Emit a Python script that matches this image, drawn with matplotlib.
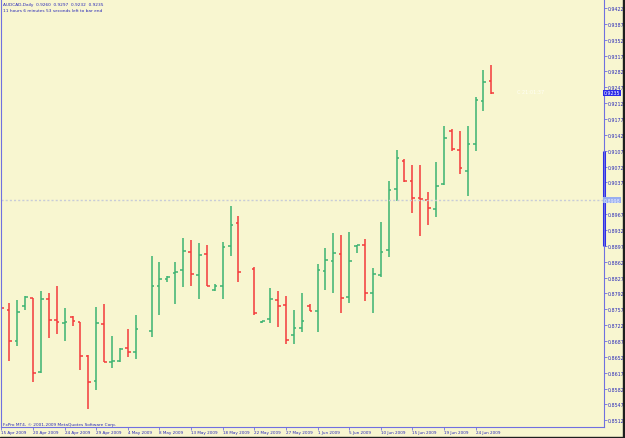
import matplotlib
matplotlib.use('Agg')
import matplotlib.pyplot as plt
import numpy as np

nan = np.nan
dates = ['15 Apr 2009', '16 Apr 2009', '17 Apr 2009', '19 Apr 2009', '20 Apr 2009', '21 Apr 2009',
         '22 Apr 2009', '23 Apr 2009', '24 Apr 2009', '26 Apr 2009', '27 Apr 2009', '28 Apr 2009',
         '29 Apr 2009', '30 Apr 2009', '1 May 2009', '3 May 2009', '4 May 2009', '5 May 2009',
         '6 May 2009', '7 May 2009', '8 May 2009', '10 May 2009', '11 May 2009', '12 May 2009',
         '13 May 2009', '14 May 2009', '15 May 2009', '17 May 2009', '18 May 2009', '19 May 2009',
         '20 May 2009', '21 May 2009', '22 May 2009', '24 May 2009', '25 May 2009', '26 May 2009',
         '27 May 2009', '28 May 2009', '29 May 2009', '31 May 2009', '1 Jun 2009', '2 Jun 2009',
         '3 Jun 2009', '4 Jun 2009', '5 Jun 2009', '7 Jun 2009', '8 Jun 2009', '9 Jun 2009',
         '10 Jun 2009', '11 Jun 2009', '12 Jun 2009', '14 Jun 2009', '15 Jun 2009', '16 Jun 2009',
         '17 Jun 2009', '18 Jun 2009', '19 Jun 2009', '21 Jun 2009', '22 Jun 2009', '23 Jun 2009',
         '24 Jun 2009', '25 Jun 2009', '26 Jun 2009']

opens = [0.8775, 0.8756, 0.8688, 0.8764, 0.8782, 0.8618, 0.8779, 0.8734, 0.8727, 0.8741,
         0.8728, 0.8655, 0.8598, 0.8725, 0.8641, 0.8642, 0.8672, 0.8662, nan, 0.8710,
         0.8808, 0.8824, 0.8837, 0.8843, 0.8883, 0.8833, 0.8878, 0.8800, 0.8808, 0.8897,
         0.8947, nan, 0.8845, 0.8728, 0.8736, 0.8778, 0.8766, 0.8701, 0.8716, 0.8764,
         0.8753, 0.8841, 0.8863, 0.8878, 0.8785, 0.8897, 0.8898, 0.8792, 0.8833, 0.8889,
         0.9023, 0.9084, 0.9041, 0.9003, 0.8998, 0.8978, 0.9033, 0.9151, 0.9109, 0.9063,
         0.9121, 0.9217, 0.9260]
highs = [0.8780, 0.8771, 0.8778, 0.8786, 0.8783, 0.8797, 0.8792, 0.8809, 0.8760, 0.8742,
         0.8729, 0.8656, 0.8761, 0.8769, 0.8697, 0.8672, 0.8714, 0.8744, nan, 0.8874,
         0.8861, 0.8831, 0.8861, 0.8914, 0.8910, 0.8903, 0.8900, 0.8812, 0.8906, 0.8984,
         0.8962, nan, 0.8851, 0.8731, 0.8805, 0.8797, 0.8786, 0.8755, 0.8794, 0.8768,
         0.8856, 0.8893, 0.8925, 0.8921, 0.8927, 0.8900, 0.8912, 0.8848, 0.8950, 0.9041,
         0.9109, 0.9088, 0.9076, 0.9076, 0.9017, 0.9082, 0.9162, 0.9155, 0.9150, 0.9162,
         0.9225, 0.9285, 0.9297]
lows = [0.8676, 0.8644, 0.8677, 0.8756, 0.8597, 0.8616, 0.8693, 0.8702, 0.8687, 0.8721,
        0.8622, 0.8538, 0.8578, 0.8640, 0.8628, 0.8641, 0.8652, 0.8647, nan, 0.8695,
        0.8745, 0.8817, 0.8769, 0.8807, 0.8808, 0.8779, 0.8808, 0.8798, 0.8780, 0.8874,
        0.8818, nan, 0.8745, 0.8727, 0.8726, 0.8717, 0.8680, 0.8680, 0.8708, 0.8753,
        0.8706, 0.8800, 0.8792, 0.8748, 0.8772, 0.8882, 0.8775, 0.8748, 0.8829, 0.8872,
        0.8997, 0.9037, 0.8969, 0.8919, 0.8943, 0.8960, 0.9032, 0.9107, 0.9055, 0.9008,
        0.9106, 0.9194, 0.9232]
closes = [0.8759, 0.8686, 0.8750, 0.8784, 0.8617, 0.8780, 0.8734, 0.8729, 0.8729, 0.8731,
          0.8654, 0.8597, 0.8726, 0.8640, 0.8643, 0.8669, 0.8662, 0.8713, nan, 0.8808,
          0.8824, 0.8829, 0.8840, 0.8885, 0.8834, 0.8876, 0.8809, 0.8808, 0.8895, 0.8942,
          0.8839, nan, 0.8748, 0.8731, 0.8780, 0.8765, 0.8689, 0.8716, 0.8731, 0.8753,
          0.8843, 0.8866, 0.8881, 0.8783, 0.8864, 0.8900, 0.8794, 0.8835, 0.8884, 0.9020,
          0.9092, 0.9040, 0.9002, 0.9000, 0.8981, 0.9030, 0.9135, 0.9111, 0.9068, 0.9121,
          0.9219, 0.9259, 0.9235]

price_ticks = [round(0.8512 + 0.0035 * k, 4) for k in range(27)]
label_step = 4
symbol = 'AUDCAD,Daily'
countdown = '11 hours 6 minutes 53 seconds left to bar end'
copyright_txt = 'FxPro MT4, \u00a9 2001-2009 MetaQuotes Software Corp.'
timer_txt = 'C 21:01:37'
level_price = 0.8998
scale_band = (0.8897, 0.9107)

BG = '#F8F6D0'
UP = '#3CB371'
DN = '#F43A3A'
AXC = '#7070E0'
TXT = '#2828B8'

W, H = 625, 439
fig = plt.figure(figsize=(W / 100, H / 100), dpi=100)
fig.patch.set_facecolor(BG)

L, R, T, B = 1, 604, 0, 428
ax = fig.add_axes([L / W, 1 - B / H, (R - L) / W, (B - T) / H])
ax.set_facecolor(BG)

step_px = 7.903
x0 = -0.05
ax.set_xlim(x0, x0 + (R - L) / step_px)
ppx = 4531.0
ax.set_ylim(0.9422 - (B - 9) / ppx, 0.9422 + 9 / ppx)

o = np.array(opens); h = np.array(highs); lo = np.array(lows); c = np.array(closes)
x = np.arange(len(o))
ok = ~np.isnan(o)
cols = [UP if cc >= oo else DN for oo, cc in zip(o[ok], c[ok])]
tick = 0.34
lw = 1.1
ax.vlines(x[ok], lo[ok], h[ok], colors=cols, linewidth=lw)
ax.hlines(o[ok], x[ok] - tick, x[ok], colors=cols, linewidth=lw)
ax.hlines(c[ok], x[ok], x[ok] + tick, colors=cols, linewidth=lw)

ax.axhline(level_price, color='#C8CCD8', linestyle=(0, (1.5, 1.5)), linewidth=1.0)

for s in ['top']:
    ax.spines[s].set_visible(False)
for s in ['left', 'right', 'bottom']:
    ax.spines[s].set_color(AXC)
    ax.spines[s].set_linewidth(0.8)

# thick band drawn on the price scale
ax.plot([1.0, 1.0], scale_band, transform=ax.get_yaxis_transform(), color='#2B2BE8',
        linewidth=2.2, solid_capstyle='butt', clip_on=False)

ax.yaxis.tick_right()
ax.set_yticks(price_ticks)
hidden = [c[-1], level_price]
ylabels = ['' if min(abs(p - q) for q in hidden) < 0.0009 else '%.4f' % p for p in price_ticks]
ax.set_yticklabels(ylabels, fontsize=3.4, color=TXT)
ax.tick_params(axis='y', direction='out', length=2, width=0.6, color=AXC, pad=1)

xt = x[::label_step]
ax.set_xticks(xt)
ax.set_xticklabels([dates[i] for i in xt], fontsize=3.0, color=TXT, ha='left')
ax.tick_params(axis='x', direction='out', length=2.0, width=0.6, color=AXC, pad=0.4)

# highlighted price labels on the price scale
ax.text(1.0, c[-1], '%.4f' % c[-1], transform=ax.get_yaxis_transform(), fontsize=3.4,
        color='white', va='center', ha='left',
        bbox=dict(boxstyle='square,pad=0.15', fc='#2B2BE8', ec='none'))
ax.text(1.0, level_price, '%.4f' % level_price, transform=ax.get_yaxis_transform(), fontsize=3.4,
        color='#EEF0FF', va='center', ha='left',
        bbox=dict(boxstyle='square,pad=0.15', fc='#98AEF0', ec='none'))

ax.text(65.2, c[-1] + 0.0003, timer_txt, fontsize=3.6, color='#FFFFF4', va='center', ha='left')

fig.text(3 / W, 1 - 5 / H, symbol + '  ' + '  '.join('%.4f' % v for v in (o[-1], h[-1], lo[-1], c[-1])),
         fontsize=3.1, color=TXT, va='center', ha='left')
fig.text(3 / W, 1 - 11 / H, countdown, fontsize=3.1, color=TXT, va='center', ha='left')
fig.text(3 / W, 1 - 425 / H, copyright_txt, fontsize=3.1, color=TXT, va='center', ha='left')

# window frame (dark edge at right and bottom)
fig.patches.append(plt.Rectangle((623 / W, 0), 2 / W, 1, transform=fig.transFigure,
                                 color='#1E1E1E', zorder=10))
fig.patches.append(plt.Rectangle((0, 0), 1, 1.5 / H, transform=fig.transFigure,
                                 color='#1E1E1E', zorder=10))

fig.savefig('out.png', dpi=100, facecolor=BG)
